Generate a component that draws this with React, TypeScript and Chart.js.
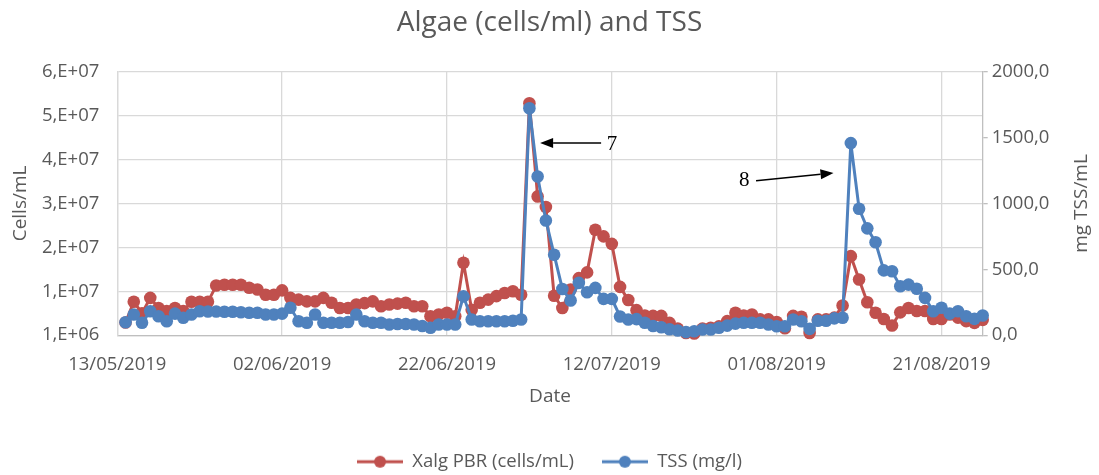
import React, { useEffect, useRef } from 'react';
import { Chart, registerables } from 'chart.js';

Chart.register(...registerables);

const FONT = '"Open Sans", "Liberation Sans", sans-serif';
const SERIF = '"Liberation Serif", "Times New Roman", serif';
const TEXT_COLOR = '#595959';
const RED = '#C0504D';
const BLUE = '#4F81BD';

const chartTitle = 'Algae (cells/ml) and TSS';
const xTitle = 'Date';
const leftTitle = 'Cells/mL';
const rightTitle = 'mg TSS/mL';
const algaeLabel = 'Xalg PBR (cells/mL)';
const tssLabel = 'TSS (mg/l)';

// tick labels (x ticks every 20 days starting 13/05/2019)
const xTickLabels = ['13/05/2019', '02/06/2019', '22/06/2019', '12/07/2019', '01/08/2019', '21/08/2019'];
const leftTickLabels = ['1,E+06', '1,E+07', '2,E+07', '3,E+07', '4,E+07', '5,E+07', '6,E+07'];
const rightTickLabels = ['0,0', '500,0', '1000,0', '1500,0', '2000,0'];

// sampling day (days after 13/05/2019)
const sampleDays = [
  1, 2, 3, 4, 5, 6, 7, 8, 9, 10, 11, 12, 13, 14, 15, 16, 17, 18, 19, 20,
  21, 22, 23, 24, 25, 26, 27, 28, 29, 30, 31, 32, 33, 34, 35, 36, 37, 38, 39, 40,
  41, 42, 43, 44, 45, 46, 47, 48, 49, 50, 51, 52, 53, 54, 55, 56, 57, 58, 59, 60,
  61, 62, 63, 64, 65, 66, 67, 68, 69, 70, 71, 72, 73, 74, 75, 76, 77, 78, 79, 80,
  81, 82, 83, 84, 85, 86, 87, 88, 89, 90, 91, 92, 93, 94, 95, 96, 97, 98, 99, 100,
  101, 102, 103, 104, 105,
];

// Xalg PBR (cells/mL)
const algaeCells = [
  3.9e6, 8.6e6, 6.0e6, 9.5e6, 7.2e6, 6.5e6, 7.2e6, 6.5e6, 8.6e6, 8.6e6,
  8.6e6, 12.3e6, 12.5e6, 12.5e6, 12.5e6, 11.8e6, 11.4e6, 10.2e6, 10.2e6, 11.2e6,
  9.5e6, 9.1e6, 8.7e6, 8.7e6, 9.5e6, 8.4e6, 7.2e6, 7.2e6, 8.0e6, 8.3e6,
  8.7e6, 7.6e6, 8.0e6, 8.2e6, 8.4e6, 7.6e6, 7.6e6, 5.3e6, 5.7e6, 6.1e6,
  5.3e6, 17.5e6, 6.8e6, 8.4e6, 9.1e6, 9.9e6, 10.6e6, 11.0e6, 10.2e6, 53.8e6,
  32.6e6, 30.2e6, 10.0e6, 7.2e6, 11.4e6, 14.0e6, 15.3e6, 25.0e6, 23.5e6, 21.8e6,
  12.0e6, 9.0e6, 6.7e6, 5.5e6, 5.4e6, 5.4e6, 3.8e6, 2.5e6, 1.5e6, 1.4e6,
  2.5e6, 2.7e6, 3.0e6, 4.2e6, 6.1e6, 5.5e6, 5.7e6, 4.6e6, 4.6e6, 4.0e6,
  2.6e6, 5.4e6, 5.2e6, 1.5e6, 4.6e6, 4.6e6, 5.0e6, 7.75e6, 19.0e6, 13.7e6,
  8.5e6, 6.1e6, 4.7e6, 3.2e6, 6.2e6, 7.2e6, 6.5e6, 6.5e6, 4.7e6, 4.7e6,
  5.7e6, 5.0e6, 4.2e6, 3.8e6, 4.5e6,
];

// TSS (mg/l)
const tssValues = [
  98, 157, 94, 182, 144, 106, 164, 132, 157, 182,
  180, 180, 178, 178, 174, 170, 170, 157, 157, 164,
  208, 106, 94, 157, 94, 94, 94, 100, 157, 106,
  94, 94, 81, 85, 85, 81, 70, 56, 81, 81,
  81, 295, 119, 106, 106, 106, 106, 110, 119, 1723,
  1205, 871, 611, 351, 263, 397, 326, 359, 276, 276,
  142, 119, 122, 94, 70, 60, 45, 36, 23, 30,
  43, 43, 56, 73, 88, 94, 94, 94, 81, 68,
  68, 119, 106, 48, 110, 110, 128, 132, 1458, 960,
  811, 705, 492, 485, 371, 384, 352, 283, 182, 208,
  164, 182, 144, 124, 149,
];

// callouts, in data units (x: day, y: TSS axis)
const callouts = [
  { text: '7', tail: [58.7, 1458], tip: [51.3, 1458], label: [59.4, 1450], align: 'left' },
  { text: '8', tail: [77.5, 1172], tip: [86.9, 1232], label: [76.7, 1172], align: 'right' },
];

const overlayPlugin = {
  id: 'overlay',
  afterDatasetsDraw(chart: any) {
    const { ctx, scales, chartArea } = chart;
    const x = scales.x;
    const yR = scales.yR;
    ctx.save();
    for (const c of callouts) {
      const x1 = x.getPixelForValue(c.tail[0]);
      const y1 = yR.getPixelForValue(c.tail[1]);
      const x2 = x.getPixelForValue(c.tip[0]);
      const y2 = yR.getPixelForValue(c.tip[1]);
      const ang = Math.atan2(y2 - y1, x2 - x1);
      const headLen = 13;
      const headW = 5;
      const bx = x2 - headLen * Math.cos(ang);
      const by = y2 - headLen * Math.sin(ang);
      ctx.strokeStyle = '#000';
      ctx.fillStyle = '#000';
      ctx.lineWidth = 1.5;
      ctx.beginPath();
      ctx.moveTo(x1, y1);
      ctx.lineTo(bx, by);
      ctx.stroke();
      ctx.beginPath();
      ctx.moveTo(x2, y2);
      ctx.lineTo(bx + headW * Math.sin(ang), by - headW * Math.cos(ang));
      ctx.lineTo(bx - headW * Math.sin(ang), by + headW * Math.cos(ang));
      ctx.closePath();
      ctx.fill();
      ctx.font = `21px ${SERIF}`;
      ctx.textAlign = c.align;
      ctx.textBaseline = 'middle';
      ctx.fillText(c.text, x.getPixelForValue(c.label[0]), yR.getPixelForValue(c.label[1]));
    }
    // secondary axis title, reading bottom-to-top
    ctx.fillStyle = TEXT_COLOR;
    ctx.font = `19px ${FONT}`;
    ctx.textAlign = 'center';
    ctx.textBaseline = 'middle';
    ctx.translate(yR.right - 17, (chartArea.top + chartArea.bottom) / 2);
    ctx.rotate(-Math.PI / 2);
    ctx.fillText(rightTitle, 0, 0);
    ctx.restore();
  },
};

export default function App() {
  const ref = useRef<HTMLCanvasElement>(null);

  useEffect(() => {
    const makeMarker = (color: string) => {
      const c = document.createElement('canvas');
      c.width = 46;
      c.height = 14;
      const g = c.getContext('2d')!;
      g.strokeStyle = color;
      g.lineWidth = 3;
      g.beginPath();
      g.moveTo(0, 7);
      g.lineTo(46, 7);
      g.stroke();
      g.fillStyle = color;
      g.beginPath();
      g.arc(23, 7, 6, 0, Math.PI * 2);
      g.fill();
      return c;
    };
    const markers = [makeMarker(RED), makeMarker(BLUE)];

    const chart = new Chart(ref.current!, {
      type: 'line',
      data: {
        datasets: [
          {
            label: algaeLabel,
            data: sampleDays.map((d, i) => ({ x: d, y: algaeCells[i] })),
            yAxisID: 'y',
            borderColor: RED,
            backgroundColor: RED,
            borderWidth: 3,
            pointRadius: 6.3,
            pointBorderWidth: 0,
            pointBackgroundColor: RED,
            tension: 0,
            order: 1,
            clip: false as any,
          },
          {
            label: tssLabel,
            data: sampleDays.map((d, i) => ({ x: d, y: tssValues[i] })),
            yAxisID: 'yR',
            borderColor: BLUE,
            backgroundColor: BLUE,
            borderWidth: 3,
            pointRadius: 6.3,
            pointBorderWidth: 0,
            pointBackgroundColor: BLUE,
            tension: 0,
            order: 0,
            clip: false as any,
          },
        ],
      },
      options: {
        responsive: true,
        maintainAspectRatio: false,
        animation: false,
        events: [],
        layout: { padding: 0 },
        scales: {
          x: {
            type: 'linear',
            min: 0,
            max: 105,
            afterFit: (s: any) => {
              s.height = 89.3;
            },
            grid: { color: '#D9D9D9', lineWidth: 1.3, drawTicks: false },
            border: { color: '#BFBFBF', width: 1.3 },
            ticks: {
              stepSize: 20,
              includeBounds: false,
              autoSkip: false,
              maxRotation: 0,
              padding: 18,
              color: TEXT_COLOR,
              font: { family: FONT, size: 18.5 },
              callback: (v: any) => {
                const idx = Math.round(Number(v) / 20);
                return xTickLabels[idx] ?? '';
              },
            },
            title: {
              display: true,
              text: xTitle,
              color: TEXT_COLOR,
              font: { family: FONT, size: 19 },
              padding: { top: 0, bottom: 17 },
            },
          },
          y: {
            type: 'linear',
            position: 'left',
            min: 1e6,
            max: 6.1e7,
            afterFit: (s: any) => {
              s.width = 117.3;
            },
            grid: { color: '#D9D9D9', lineWidth: 1.3, drawTicks: false },
            border: { color: '#D9D9D9', width: 1.3 },
            ticks: {
              stepSize: 1e7,
              padding: 18,
              color: TEXT_COLOR,
              font: { family: FONT, size: 18.5 },
              callback: (v: any) => leftTickLabels[Math.round((Number(v) - 1e6) / 1e7)] ?? '',
            },
            title: {
              display: true,
              text: leftTitle,
              color: TEXT_COLOR,
              font: { family: FONT, size: 19 },
              padding: { top: 9, bottom: 0 },
            },
          },
          yR: {
            type: 'linear',
            position: 'right',
            min: 0,
            max: 2000,
            afterFit: (s: any) => {
              s.width = 116.3;
            },
            grid: { drawOnChartArea: false, color: '#BFBFBF', lineWidth: 1.3, drawTicks: true, tickLength: 5 },
            border: { color: '#BFBFBF', width: 1.3 },
            ticks: {
              stepSize: 500,
              padding: 4,
              color: TEXT_COLOR,
              font: { family: FONT, size: 18.5 },
              callback: (v: any) => rightTickLabels[Math.round(Number(v) / 500)] ?? '',
            },
          },
        },
        plugins: {
          title: {
            display: true,
            text: chartTitle,
            color: TEXT_COLOR,
            font: { family: FONT, size: 28, weight: 'normal' },
            padding: { top: 6.5, bottom: 31.6 },
          },
          legend: {
            display: true,
            position: 'bottom',
            labels: {
              usePointStyle: true,
              pointStyleWidth: 46,
              padding: 28,
              color: TEXT_COLOR,
              font: { family: FONT, size: 18.5 },
              sort: (a: any, b: any) => a.datasetIndex - b.datasetIndex,
              generateLabels: (ch: any) => {
                const items = (Chart.defaults.plugins.legend.labels as any).generateLabels(ch);
                return items.map((it: any) => ({ ...it, pointStyle: markers[it.datasetIndex] }));
              },
            },
          },
          tooltip: { enabled: false },
        },
      } as any,
      plugins: [overlayPlugin],
    });
    return () => chart.destroy();
  }, []);

  return (
    <div
      style={{
        position: 'fixed',
        left: 0,
        top: 0,
        width: 1099,
        height: 475,
        overflow: 'hidden',
        background: '#fff',
      }}
    >
      <div style={{ position: 'relative', width: 1099, height: 481 }}>
        <canvas ref={ref} />
      </div>
    </div>
  );
}
